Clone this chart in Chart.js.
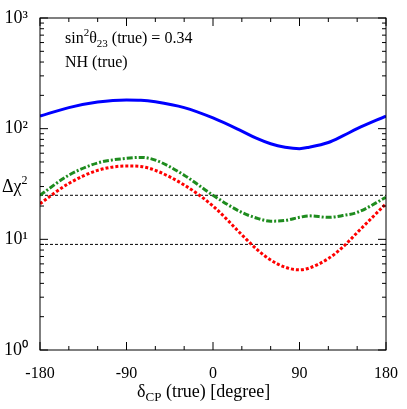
<!DOCTYPE html><html><head><meta charset="utf-8">
<script src="https://cdn.jsdelivr.net/npm/chart.js@4/dist/chart.umd.min.js"></script>
<style>body{margin:0;background:#fff}#w{width:407px;height:409px}</style></head><body><div id="w"><canvas id="c"></canvas></div>
<script>
const deltaCP=[-180,-150,-120,-90,-75,-60,-30,0,30,45,60,75,90,100,120,135,150,180];
const blue=[130,155,174,182,181,175,155,125,95,82,73,68,66,68,75,86,100,130];
const green=[25,38,49,54,55,52,38,25,17.5,15.6,14.6,14.8,15.8,16.3,15.8,16.4,17.5,24];
const red=[21,32,42,46,45.5,42,31,20,11,8.2,6.5,5.6,5.3,5.5,6.7,8.5,11.5,21];
const line25=25, line9=9;
const xTicks=[-180,-90,0,90,180];
const yTickLabels={1:'10⁰',10:'10¹',100:'10²',1000:'10³'};
const F='"Liberation Serif", serif';
const pts=a=>deltaCP.map((x,i)=>({x,y:a[i]}));
const deco={id:'deco',afterDraw(ch){const c=ch.ctx,a=ch.chartArea,xs=ch.scales.x,ys=ch.scales.y;
c.save();c.strokeStyle='#000';c.lineWidth=1;c.strokeRect(a.left,a.top,a.right-a.left,a.bottom-a.top);
c.beginPath();
for(let v=-180;v<=180;v+=30){const p=xs.getPixelForValue(v),L=xTicks.includes(v)?8:4;c.moveTo(p,a.bottom);c.lineTo(p,a.bottom-L);c.moveTo(p,a.top);c.lineTo(p,a.top+L);}
for(let d=1;d<=1000;d*=10)for(let k=1;k<10;k++){const v=d*k;if(v>1000)break;const p=ys.getPixelForValue(v),L=k==1?8:4;c.moveTo(a.left,p);c.lineTo(a.left+L,p);c.moveTo(a.right,p);c.lineTo(a.right-L,p);}
c.stroke();
c.fillStyle='#000';c.font='16px '+F;c.textBaseline='alphabetic';
let x=a.left+25,y=a.top+25;c.fillText('sin',x,y);x+=c.measureText('sin').width;
c.font='11px '+F;c.fillText('2',x,y-7);x+=c.measureText('2').width;c.font='16px '+F;c.fillText('θ',x,y);x+=c.measureText('θ').width;
c.font='11px '+F;c.fillText('23',x,y+4);x+=c.measureText('23').width;c.font='16px '+F;c.fillText(' (true) = 0.34',x,y);
c.fillText('NH (true)',a.left+25,a.top+49);
c.font='18px '+F;x=137;y=397;c.fillText('δ',x,y);x+=c.measureText('δ').width;c.font='13px '+F;c.fillText('CP',x,y+4);x+=c.measureText('CP').width;c.font='18px '+F;c.fillText(' (true) [degree]',x,y);
c.fillText('Δχ',2,192);x=2+c.measureText('Δχ').width;c.font='12px '+F;c.fillText('2',x,184);
c.restore();}};
new Chart(document.getElementById('c'),{type:'line',plugins:[deco],
data:{datasets:[
{data:pts(blue),borderColor:'#0000ff',borderWidth:3},
{data:pts(green),borderColor:'#1e8c1e',borderWidth:3,borderDash:[6,2,2,2]},
{data:pts(red),borderColor:'#ff0000',borderWidth:3,borderDash:[3,2]},
{data:[{x:-180,y:line25},{x:180,y:line25}],borderColor:'#000',borderWidth:1,borderDash:[3,2],tension:0},
{data:[{x:-180,y:line9},{x:180,y:line9}],borderColor:'#000',borderWidth:1,borderDash:[3,2],tension:0}]},
options:{responsive:true,maintainAspectRatio:false,animation:false,
elements:{point:{radius:0},line:{cubicInterpolationMode:'monotone'}},
layout:{padding:{top:18,right:21,left:0,bottom:0}},
plugins:{legend:{display:false},tooltip:{enabled:false}},
scales:{
x:{type:'linear',min:-180,max:180,afterBuildTicks:s=>{s.ticks=xTicks.map(v=>({value:v}))},afterFit:s=>{s.height=59},
grid:{display:false},border:{display:false},ticks:{color:'#000',font:{family:F,size:16},maxRotation:0,padding:6}},
y:{type:'logarithmic',min:1,max:1000,afterBuildTicks:s=>{s.ticks=[1,10,100,1000].map(v=>({value:v}))},afterFit:s=>{s.width=40},
grid:{display:false},border:{display:false},ticks:{color:'#000',font:{family:F,size:18},callback:v=>yTickLabels[v]||'',padding:4}}}}});
</script></body></html>
